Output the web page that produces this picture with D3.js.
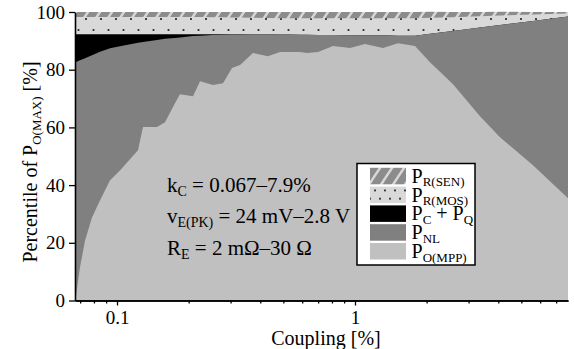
<!DOCTYPE html>
<html><head><meta charset="utf-8">
<script src="https://cdn.jsdelivr.net/npm/d3@7"></script>
<style>
body{margin:0;background:#fff}
svg{display:block}
text{font-family:"Liberation Serif","Times New Roman",serif;fill:#000}
</style>
</head><body>
<svg id="c" width="574" height="349"></svg>
<script>
// ---- data (percent of P_O(MAX)) ----
const coupling = [0.0666,0.0673,0.0699,0.0734,0.0785,0.0848,0.0935,0.1029,0.1225,0.1286,0.1473,0.1591,0.1752,0.1839,0.2086,0.2233,0.2531,0.2789,0.3042,0.3287,0.3727,0.431,0.484,0.5331,0.5872,0.6284,0.6992,0.8084,0.9528,1.1014,1.311,1.516,1.787,2.066,2.581,3.351,4.067,5.597,7.852];
const pMPP = [0,1.7,11.5,20.8,28.8,34.7,41.7,45.1,52.1,60.1,60.1,61.8,68.4,71.5,70.8,76.0,74.7,75.3,80.6,81.6,85.8,84.7,86.1,86.1,86.1,85.8,86.1,88.2,87.5,88.9,87.5,89.2,88.2,82.6,75.0,63.9,56.6,46.9,35.4];
const pNL  = [82.6,81.0,71.8,63.2,56.2,51.5,45.7,43.0,37.2,29.5,30.2,28.9,22.6,19.7,20.9,15.8,17.3,16.8,11.6,10.6,6.5,7.6,6.1,6.1,6.0,6.3,5.9,3.8,4.4,3.0,4.4,2.6,3.6,9.9,18.4,30.7,38.9,50.0,63.0];
const pCQ  = [9.7,9.6,9.0,8.3,7.3,6.1,4.9,4.2,3.0,2.7,2.0,1.6,1.3,1.1,0.6,0.5,0.3,0.2,0.1,0.1,0,0,0,0,0,0,0,0,0,0,0,0,0,0,0,0,0,0,0];
const pMOS = [6.0,6.0,6.0,6.0,6.0,6.0,6.0,6.0,6.0,6.0,6.0,6.0,6.0,6.0,6.0,6.0,5.9,5.9,5.8,5.8,5.7,5.6,5.6,5.6,5.7,5.7,5.8,5.8,5.9,5.9,5.9,6.0,6.0,5.5,4.8,3.9,3.3,2.2,1.1];
const pSEN = [1.7,1.7,1.7,1.7,1.7,1.7,1.7,1.7,1.7,1.7,1.7,1.7,1.7,1.7,1.7,1.7,1.8,1.8,1.9,1.9,2.0,2.1,2.2,2.2,2.2,2.2,2.2,2.2,2.2,2.2,2.2,2.2,2.2,2.1,1.8,1.5,1.3,0.9,0.5];
const yTicks = [0,20,40,60,80,100];
const xMajorTicks = [0.1,1];
const xMinorTicks = [0.07,0.08,0.09,0.2,0.3,0.4,0.5,0.6,0.7,0.8,0.9,2,3,4,5,6,7];
const annotLines = [
  [["k",0],["C",1],[" = 0.067–7.9%",0]],
  [["v",0],["E(PK)",1],[" = 24 mV–2.8 V",0]],
  [["R",0],["E",1],[" = 2 mΩ–30 Ω",0]]
];
const legendItems = [
  {key:"sen", label:[["P",0],["R(SEN)",1]]},
  {key:"mos", label:[["P",0],["R(MOS)",1]]},
  {key:"cq",  label:[["P",0],["C",1],[" + P",0],["Q",1]]},
  {key:"nl",  label:[["P",0],["NL",1]]},
  {key:"mpp", label:[["P",0],["O(MPP)",1]]}
];

const keys = ["mpp","nl","cq","mos","sen"];
const rows = coupling.map((c,i)=>({x:c,mpp:pMPP[i],nl:pNL[i],cq:pCQ[i],mos:pMOS[i],sen:pSEN[i]}));

const svg = d3.select("#c");
const L=75, R=568, T=12, B=300.5;
const x = d3.scaleLog().domain([coupling[0], coupling[coupling.length-1]]).range([L,R]);
const y = d3.scaleLinear().domain([0,100]).range([B,T]);

const defs = svg.append("defs");
const dots = defs.append("pattern").attr("id","dots").attr("patternUnits","userSpaceOnUse")
  .attr("width",15).attr("height",22);
dots.append("rect").attr("width",15).attr("height",22).attr("fill","#d9d9d9");
dots.append("rect").attr("x",2.6).attr("y",7.1).attr("width",1.8).attr("height",1.8).attr("fill","#222");
dots.append("rect").attr("x",10.1).attr("y",18.1).attr("width",1.8).attr("height",1.8).attr("fill","#222");

const dotsL = defs.append("pattern").attr("id","dotsL").attr("patternUnits","userSpaceOnUse")
  .attr("x",370).attr("y",188).attr("width",10).attr("height",16.5);
dotsL.append("rect").attr("width",10).attr("height",16.5).attr("fill","#d9d9d9");
dotsL.append("rect").attr("x",4.1).attr("y",1.5).attr("width",1.8).attr("height",1.8).attr("fill","#222");
dotsL.append("rect").attr("x",-0.9).attr("y",9.8).attr("width",1.8).attr("height",1.8).attr("fill","#222");
dotsL.append("rect").attr("x",9.1).attr("y",9.8).attr("width",1.8).attr("height",1.8).attr("fill","#222");

const hatch = defs.append("pattern").attr("id","hatch").attr("patternUnits","userSpaceOnUse")
  .attr("width",12).attr("height",18);
hatch.append("rect").attr("width",12).attr("height",18).attr("fill","#8c8c8c");
[[0,18,12,0],[-6,9,6,-9],[6,27,18,9]].forEach(s=>
  hatch.append("line").attr("x1",s[0]).attr("y1",s[1]).attr("x2",s[2]).attr("y2",s[3])
   .attr("stroke","#d8d8d8").attr("stroke-width",2.4));

const fills = {mpp:"#c0c0c0", nl:"#808080", cq:"#000000", mos:"url(#dots)", sen:"url(#hatch)"};
const legendFills = {mpp:"#c0c0c0", nl:"#808080", cq:"#000000", mos:"url(#dotsL)", sen:"url(#hatch)"};

const stacked = d3.stack().keys(keys)(rows);
const area = d3.area().x(d=>x(d.data.x)).y0(y(0)).y1(d=>y(d[1]));
const g = svg.append("g");
stacked.slice().reverse().forEach(s=>{
  g.append("path").attr("d",area(s)).attr("fill",fills[s.key]);
});

function richText(t, segs, big, small, shift){
  let prevSub = false;
  segs.forEach(seg=>{
    const isSub = !!seg[1];
    let dy = 0;
    if(isSub && !prevSub) dy = shift;
    if(!isSub && prevSub) dy = -shift;
    t.append("tspan").text(seg[0]).attr("font-size",isSub?small:big).attr("dy",dy);
    prevSub = isSub;
  });
}

// annotation text
annotLines.forEach((ln,i)=>{
  const t = svg.append("text").attr("x",167).attr("y",191.5+i*31.5).attr("font-size",21);
  richText(t, ln, 21, 14, 4);
});

// legend
svg.append("rect").attr("x",357).attr("y",163.5).attr("width",118).attr("height",101.5)
  .attr("fill","#fff").attr("stroke","#000").attr("stroke-width",1.5);
legendItems.forEach((it,i)=>{
  const top = 167.8 + i*18.8;
  svg.append("rect").attr("x",370).attr("y",top).attr("width",36).attr("height",16.5)
    .attr("fill",legendFills[it.key]);
  const t = svg.append("text").attr("x",411.5).attr("y",top+15).attr("font-size",20);
  richText(t, it.label, 20, 13, 3.5);
});

// axes
const xAxisMinor = d3.axisBottom(x).tickValues(xMinorTicks).tickSize(3).tickSizeOuter(0).tickFormat("");
const xAxis = d3.axisBottom(x).tickValues(xMajorTicks).tickSize(5).tickSizeOuter(0).tickPadding(5.5)
  .tickFormat(d=> d>=1 ? d3.format("d")(d) : String(d));
const gxm = svg.append("g").attr("transform",`translate(0,${B})`).call(xAxisMinor);
const gx = svg.append("g").attr("transform",`translate(0,${B})`).call(xAxis);
const yAxis = d3.axisLeft(y).tickValues(yTicks).tickSize(6).tickSizeOuter(0).tickPadding(4);
const gy = svg.append("g").attr("transform",`translate(${L},0)`).call(yAxis);
[gxm,gx,gy].forEach(a=>{
  a.selectAll(".domain").attr("stroke","#000").attr("stroke-width",1.6);
  a.selectAll(".tick line").attr("stroke","#000").attr("stroke-width",1.3);
  a.selectAll("text").attr("font-family","'Liberation Serif','Times New Roman',serif").attr("font-size",19).attr("fill","#000");
});

// axis titles
svg.append("text").attr("x",326).attr("y",345).attr("text-anchor","middle").attr("font-size",20).text("Coupling [%]");
const yt = svg.append("text").attr("transform","translate(37,162) rotate(-90)").attr("text-anchor","middle").attr("font-size",20);
richText(yt, [["Percentile of P",0],["O(MAX)",1],[" [%]",0]], 20, 13, 3.5);
</script>
</body></html>
